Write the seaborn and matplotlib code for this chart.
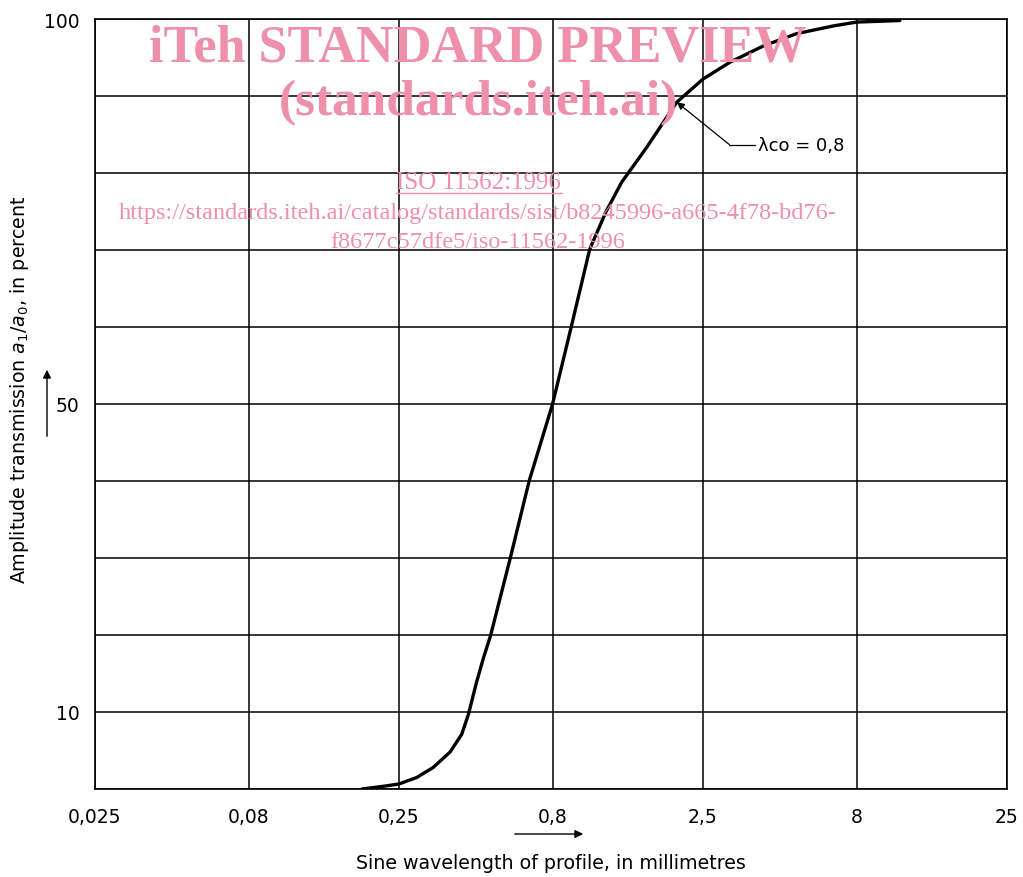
import numpy as np
import pandas as pd
import seaborn as sns
import matplotlib.pyplot as plt
from matplotlib.patches import FancyArrowPatch

# values
wavelength = [0.189, 0.222, 0.25, 0.286, 0.324, 0.368, 0.402, 0.423, 0.45, 0.473,
              0.50, 0.58, 0.67, 0.80, 0.92, 1.06, 1.2, 1.35, 1.63, 2.05, 2.5,
              3.07, 3.95, 5.08, 6.71, 8.0, 11.1]
transmission = [0, 0.35, 0.65, 1.5, 2.8, 4.8, 7.1, 9.7, 13.9, 16.9,
                19.9, 29.9, 40.0, 50.0, 59.9, 70.1, 75.0, 78.8, 83.3, 89.2, 92.2,
                94.4, 96.5, 98.1, 99.1, 99.6, 99.8]

x_ticks = [0.025, 0.08, 0.25, 0.8, 2.5, 8, 25]
x_labels = ['0,025', '0,08', '0,25', '0,8', '2,5', '8', '25']
y_grid = [0, 10, 20, 30, 40, 50, 60, 70, 80, 90, 100]
y_labels = {10: '10', 50: '50', 100: '100'}

df = pd.DataFrame({'wavelength': wavelength, 'transmission': transmission})

sns.set_theme(style='white')
plt.rcParams['font.family'] = ['DejaVu Sans']
plt.rcParams['text.color'] = 'black'

fig = plt.figure(figsize=(10.23, 8.78), dpi=100)
ax = fig.add_axes([95 / 1023, 88 / 878, 912 / 1023, 770 / 878])

sns.lineplot(data=df, x='wavelength', y='transmission', ax=ax,
             color='black', linewidth=2.4, zorder=5)

ax.set_xscale('log')
ax.set_xlim(0.025, 25)
ax.set_ylim(0, 100)
ax.set_xticks(x_ticks)
ax.set_xticklabels(x_labels)
ax.minorticks_off()
ax.set_yticks(y_grid)
ax.set_yticklabels([y_labels.get(v, '') for v in y_grid])
ax.grid(True, color='black', linewidth=1.1)
ax.tick_params(length=0, labelsize=13.5, colors='black')
ax.tick_params(axis='x', pad=13)
ax.tick_params(axis='y', pad=11)
for s in ax.spines.values():
    s.set_color('black')
    s.set_linewidth(1.2)
ax.set_xlabel('')
ax.set_ylabel('')

# axis titles with direction arrows
fig.text(551 / 1023, 1 - 864 / 878, 'Sine wavelength of profile, in millimetres',
         ha='center', va='center', fontsize=13.7)
fig.text(20 / 1023, 1 - 390 / 878, r'Amplitude transmission $a_1/a_0$, in percent',
         ha='center', va='center', rotation=90, fontsize=13.7)
fig.patches.append(FancyArrowPatch(
    (512 / 1023, 1 - 835 / 878), (586 / 1023, 1 - 835 / 878),
    transform=fig.transFigure, arrowstyle='-|>', mutation_scale=12,
    color='black', linewidth=1))
fig.patches.append(FancyArrowPatch(
    (47 / 1023, 1 - 440 / 878), (47 / 1023, 1 - 368 / 878),
    transform=fig.transFigure, arrowstyle='-|>', mutation_scale=12,
    color='black', linewidth=1))

# cut-off label
ax.annotate('', xy=(2.05, 89.2), xytext=(3.05, 83.7),
            arrowprops=dict(arrowstyle='-|>', color='black', lw=0.9,
                            mutation_scale=11, shrinkA=0, shrinkB=0))
ax.plot([3.05, 3.7], [83.7, 83.7], color='black', lw=0.9, zorder=6)
ax.text(3.8, 83.7, 'λco = 0,8', ha='left', va='center', fontsize=13)

# preview watermark
pink = '#EE8FAB'
wm = [('iTeh STANDARD PREVIEW', 48, 37.5, 'bold'),
      ('(standards.iteh.ai)', 103, 37, 'bold'),
      ('ISO 11562:1996', 183, 18, 'normal'),
      ('https://standards.iteh.ai/catalog/standards/sist/b8245996-a665-4f78-bd76-', 213, 17.5, 'normal'),
      ('f8677c57dfe5/iso-11562-1996', 243, 17.5, 'normal')]
for txt, ypx, fs, wt in wm:
    fig.text(478 / 1023, 1 - ypx / 878, txt, ha='center', va='center',
             fontsize=fs, fontweight=wt, color=pink,
             family=['Liberation Serif', 'DejaVu Serif'], zorder=10)
fig.lines.append(plt.Line2D([396 / 1023, 562 / 1023],
                            [1 - 194 / 878, 1 - 194 / 878],
                            transform=fig.transFigure, color=pink, lw=1))

fig.savefig('out.png', dpi=100, facecolor='white')
